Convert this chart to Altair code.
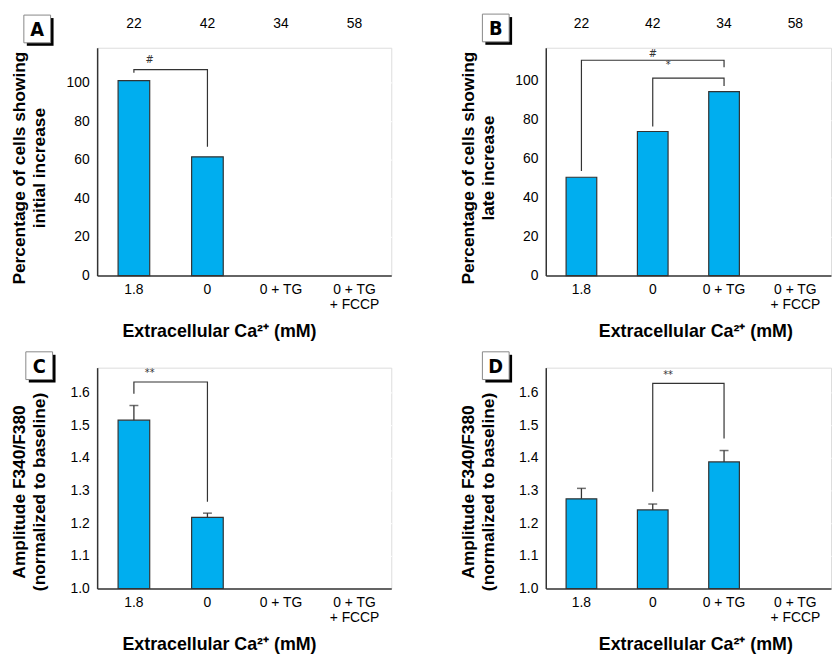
import altair as alt
import pandas as pd

# ---------------- data ----------------
categories = ["1.8", "0", "0 + TG", "0 + TG + FCCP"]
n_cells = [22, 42, 34, 58]

initial_pct = [101, 61.5]            # panel A (1.8, 0)
late_pct = [50.5, 74, 94.5]          # panel B (1.8, 0, 0 + TG)
amp_c = [1.516, 1.218]               # panel C
amp_c_err = [1.561, 1.231]
amp_d = [1.275, 1.241, 1.388]        # panel D
amp_d_err = [1.307, 1.259, 1.423]

# brackets: (from category, to category, y_left_end, y_top, y_right_end)
brackets_a = [("1.8", "0", 105, 106.7, 66.7)]
brackets_b = [("1.8", "0 + TG", 53.7, 110.6, 107), ("0", "0 + TG", 76.5, 101.4, 97.3)]
brackets_c = [("1.8", "0", 1.597, 1.633, 1.266)]
brackets_d = [("0", "0 + TG", 1.2965, 1.629, 1.46)]

# significance labels: (category, symbol, y, band position)
sig_a = [("1.8", "#", 111.8, 1.0)]
sig_b = [("0", "#", 114, 0.5), ("0", "*", 108, 1.0)]
sig_c = [("1.8", "**", 1.66, 1.0)]
sig_d = [("0", "**", 1.653, 1.0)]

FONT = "DejaVu Sans Condensed"
BAR = "#00aeef"
INK = "#333333"
TXT = "#222222"
XTITLE = "Extracellular Ca²⁺ (mM)"


def panel(letter, vals, errs, brackets, sigs, ytitle, ydomain, yvals, yfmt,
          base, width, height, box, title_x, title_y, show_n):
    k = len(vals)
    bars = pd.DataFrame({"cat": categories[:k], "value": vals, "base": [base] * k})
    xscale = alt.Scale(domain=categories, paddingInner=0.57, paddingOuter=0.285)
    xaxis = alt.Axis(
        title=XTITLE, labelAngle=0, ticks=False, tickSize=0, grid=False,
        labelPadding=7, labelFontSize=14, labelLineHeight=15, labelBaseline="top",
        labelExpr="datum.value == '0 + TG + FCCP' ? ['0 + TG', '+ FCCP'] : datum.label",
        titleFontSize=18, titleX=title_x, titlePadding=8, minExtent=40, maxExtent=40,
        domainColor=INK, domainWidth=1.5,
    )
    yscale = alt.Scale(domain=ydomain, nice=False, zero=False)
    yaxis = alt.Axis(
        title=ytitle, values=yvals, format=yfmt, ticks=False, tickSize=0,
        labelPadding=8, labelFontSize=14, grid=True, gridColor="white", gridWidth=1.2,
        titleFontSize=17.5, titleLineHeight=20, titlePadding=19, minExtent=30, maxExtent=30,
        titleY=title_y, domainColor=INK, domainWidth=1.5,
    )
    X = alt.X("cat:N", scale=xscale, axis=xaxis, sort=categories)
    Y = alt.Y("value:Q", scale=yscale, axis=yaxis)

    layers = [
        alt.Chart(bars).mark_bar(fill=BAR, stroke=INK, strokeWidth=1.2).encode(
            x=X, y=Y, y2="base:Q")
    ]
    if errs is not None:
        edf = pd.DataFrame({"cat": categories[:k], "value": vals, "err": errs})
        layers.append(alt.Chart(edf).mark_rule(color=INK, strokeWidth=1.3).encode(
            x=X, y=Y, y2="err:Q"))
        layers.append(alt.Chart(edf).mark_tick(color=INK, size=9, thickness=1.5).encode(
            x=X, y=alt.Y("err:Q", scale=yscale, axis=yaxis)))

    rows = []
    for i, (c1, c2, yl, yt, yr) in enumerate(brackets):
        for j, (c, v) in enumerate([(c1, yl), (c1, yt), (c2, yt), (c2, yr)]):
            rows.append({"cat": c, "value": v, "bid": i, "idx": j})
    layers.append(alt.Chart(pd.DataFrame(rows)).mark_line(color=INK, strokeWidth=1.2).encode(
        x=X, y=Y, detail="bid:N", order="idx:Q"))

    for (c, s, v, bp) in sigs:
        sdf = pd.DataFrame({"cat": [c], "value": [v], "s": [s]})
        layers.append(alt.Chart(sdf).mark_text(font=FONT, fontSize=11, color=INK,
                                               baseline="middle").encode(
            x=alt.X("cat:N", scale=xscale, axis=xaxis, sort=categories, bandPosition=bp),
            y=Y, text="s:N"))

    bx, by, bw, bh = box
    one = pd.DataFrame({"t": [letter]})
    layers.append(alt.Chart(one).mark_rect(fill="black").encode(
        x=alt.value(bx + 3), x2=alt.value(bx + 3 + bw),
        y=alt.value(by + 3), y2=alt.value(by + 3 + bh)))
    layers.append(alt.Chart(one).mark_rect(fill="white", stroke="#888888", strokeWidth=1).encode(
        x=alt.value(bx), x2=alt.value(bx + bw), y=alt.value(by), y2=alt.value(by + bh)))
    layers.append(alt.Chart(one).mark_text(font=FONT, fontSize=20, fontWeight="bold",
                                           color="black", baseline="middle").encode(
        x=alt.value(bx + bw / 2), y=alt.value(by + bh / 2 + 1), text="t:N"))

    inner = alt.layer(*layers)
    if show_n:
        ndf = pd.DataFrame({"cat": categories, "n": n_cells})
        keys = "[" + ",".join("'%s'" % c for c in categories) + "]"
        labs = "[" + ",".join("'%s'" % n for n in n_cells) + "]"
        top = alt.Chart(ndf).mark_point(opacity=0).encode(
            x=alt.X("cat:N", scale=xscale, sort=categories, axis=alt.Axis(
                orient="top", title=None, domain=False, ticks=False, grid=False,
                labelAngle=0, labelPadding=17, labelFontSize=14,
                labelExpr=labs + "[indexof(" + keys + ", datum.value)]")))
        out = alt.layer(inner, top).resolve_axis(x="independent")
    else:
        out = inner
    return out.properties(width=width, height=height)


WA, WB = 297, 288
A = panel("A", initial_pct, None, brackets_a, sig_a,
          ["Percentage of cells showing", "initial increase"], [0, 118],
          [0, 20, 40, 60, 80, 100], "d", 0, WA, 230, (-74, -33, 27, 28), 123, 121, True)
B = panel("B", late_pct, None, brackets_b, sig_b,
          ["Percentage of cells showing", "late increase"], [0, 117],
          [0, 20, 40, 60, 80, 100], "d", 0, WB, 230, (-64, -34, 27, 28), 151, 121, True)
C = panel("C", amp_c, amp_c_err, brackets_c, sig_c,
          ["Amplitude F340/F380", "(normalized to baseline)"], [1.0, 1.677],
          [1.0, 1.1, 1.2, 1.3, 1.4, 1.5, 1.6], ".1f", 1.0, WA, 223, (-72, -16, 27, 28), 123, 125, False)
D = panel("D", amp_d, amp_d_err, brackets_d, sig_d,
          ["Amplitude F340/F380", "(normalized to baseline)"], [1.0, 1.677],
          [1.0, 1.1, 1.2, 1.3, 1.4, 1.5, 1.6], ".1f", 1.0, WB, 223, (-64, -16, 27, 28), 151, 125, False)

chart = alt.concat(A, B, C, D, columns=2, spacing=alt.RowColnumber(row=93, column=156),
                   bounds="flush").properties(
    padding={"left": 2, "top": 2, "right": 0, "bottom": 0}
).configure_view(fill="#e6e7e8", stroke=None).configure_axis(
    labelFont=FONT, titleFont=FONT, labelColor=TXT, titleColor=TXT,
    titleFontWeight="bold"
).configure(background="white")

chart.save("out.html", embed_options={"renderer": "svg", "actions": False})
